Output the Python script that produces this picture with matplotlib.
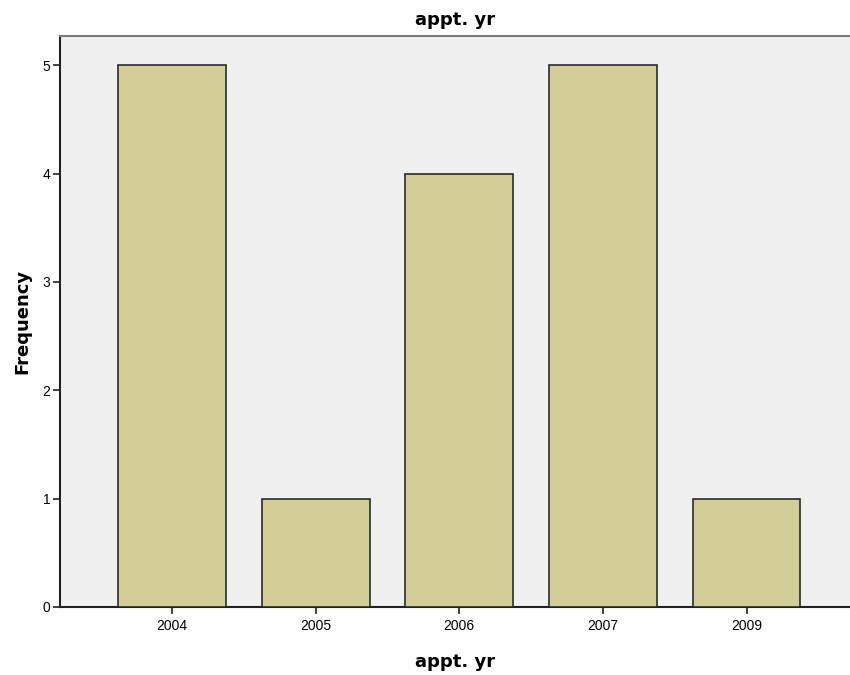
import matplotlib
matplotlib.use("Agg")
import matplotlib.pyplot as plt

categories = ["2004", "2005", "2006", "2007", "2009"]
frequency = [5, 1, 4, 5, 1]
y_ticks = [0, 1, 2, 3, 4, 5]

plt.rcParams['font.family'] = ['Liberation Sans', 'DejaVu Sans']
fig = plt.figure(figsize=(8.5, 6.75), dpi=100)
ax = fig.add_axes([60/850, 68/675, 1 - 60/850, (607-36)/675])
ax.set_facecolor('#f0f0f0')

x = list(range(len(categories)))
ax.bar(x, frequency, width=0.75, color='#d3ce97', edgecolor='#2b2b2b', linewidth=1.2, zorder=3)

ax.set_xlim(-0.78, 4.72)
ax.set_ylim(0, 5.27)
ax.set_xticks(x)
ax.set_xticklabels(categories, fontsize=10)
ax.set_yticks(y_ticks)
ax.set_yticklabels([str(v) for v in y_ticks], fontsize=10)
ax.tick_params(axis='x', length=5, width=1.2, color='#222222', pad=4)
ax.tick_params(axis='y', length=5, width=1.2, color='#222222', pad=2)

for s in ['left', 'bottom']:
    ax.spines[s].set_color('#222222')
    ax.spines[s].set_linewidth(1.5)
ax.spines['top'].set_color('#7a7a7a')
ax.spines['top'].set_linewidth(1.5)
ax.spines['right'].set_visible(False)

lab = dict(fontsize=13, fontweight='bold', family=['DejaVu Sans'])
ax.set_title("appt. yr", pad=8, **lab)
ax.set_xlabel("appt. yr", labelpad=14, **lab)
ax.set_ylabel("Frequency", labelpad=8, **lab)

fig.savefig("out.png", dpi=100)
